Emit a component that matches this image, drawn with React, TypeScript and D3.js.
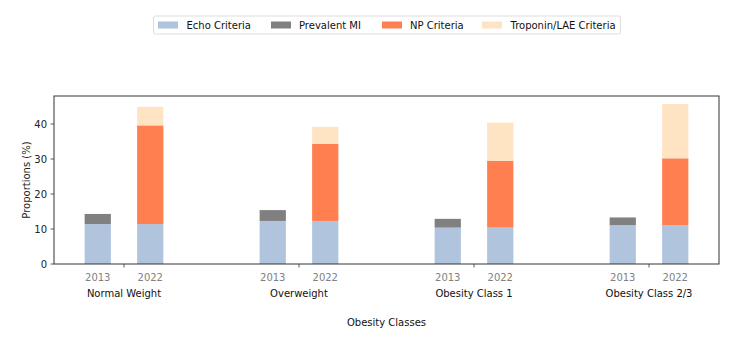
import React from "react";
import * as d3 from "d3";

const categories = ["Normal Weight", "Overweight", "Obesity Class 1", "Obesity Class 2/3"];
const years = ["2013", "2022"];
const echo2013 = [11.4, 12.3, 10.4, 11.1];
const mi2013 = [2.9, 3.1, 2.5, 2.2];
const echo2022 = [11.4, 12.3, 10.4, 11.1];
const np2022 = [28.2, 22.0, 19.1, 19.1];
const trop2022 = [5.3, 4.9, 10.9, 15.5];
const yTicks = [0, 10, 20, 30, 40];
const seriesNames = ["Echo Criteria", "Prevalent MI", "NP Criteria", "Troponin/LAE Criteria"];
const colors = ["#B0C4DE", "#808080", "#FF7F50", "#FFE4C4"];

const W = 744, H = 340;
const font = "DejaVu Sans, sans-serif";

export default function App() {
  const x = d3.scaleLinear().domain([-0.4, 3.4]).range([54, 719]);
  const y = d3.scaleLinear().domain([0, 48]).range([264, 96]);
  const bw = 0.15;
  const off = 0.15;
  const bars: { x0: number; v0: number; v1: number; c: string; key: string }[] = [];
  categories.forEach((_, i) => {
    const a = i - off;
    bars.push({ key: `e13-${i}`, x0: a, v0: 0, v1: echo2013[i], c: colors[0] });
    bars.push({ key: `m13-${i}`, x0: a, v0: echo2013[i], v1: echo2013[i] + mi2013[i], c: colors[1] });
    const b = i + off;
    const s1 = echo2022[i];
    const s2 = s1 + np2022[i];
    const s3 = s2 + trop2022[i];
    bars.push({ key: `e22-${i}`, x0: b, v0: 0, v1: s1, c: colors[0] });
    bars.push({ key: `n22-${i}`, x0: b, v0: s1, v1: s2, c: colors[2] });
    bars.push({ key: `t22-${i}`, x0: b, v0: s2, v1: s3, c: colors[3] });
  });

  const legendItems = [
    { px: 158, tx: 186.5 },
    { px: 271, tx: 299 },
    { px: 382, tx: 410 },
    { px: 482, tx: 510.5 },
  ];

  return (
    <svg width={W} height={H} style={{ position: "absolute", left: 0, top: 0, background: "#fff" }} fontFamily={font}>
      <rect x={0} y={0} width={W} height={H} fill="#fff" />
      {bars.map((b) => (
        <rect
          key={b.key}
          x={x(b.x0 - bw / 2)}
          width={x(bw) - x(0)}
          y={y(b.v1)}
          height={y(b.v0) - y(b.v1)}
          fill={b.c}
        />
      ))}
      {/* axes frame */}
      <rect x={54} y={96} width={719 - 54} height={264 - 96} fill="none" stroke="#333" strokeWidth={1} />
      {/* y ticks */}
      {yTicks.map((t) => (
        <g key={t}>
          <line x1={54} x2={50.5} y1={y(t)} y2={y(t)} stroke="#333" strokeWidth={0.8} />
          <text x={47} y={y(t)} dy="0.35em" textAnchor="end" fontSize={10} fill="#222">
            {t}
          </text>
        </g>
      ))}
      <text transform={`translate(30,180) rotate(-90)`} textAnchor="middle" fontSize={10} fill="#222">
        Proportions (%)
      </text>
      {/* x ticks */}
      {categories.map((c, i) => (
        <g key={c}>
          <line x1={x(i)} x2={x(i)} y1={264} y2={267.5} stroke="#333" strokeWidth={0.8} />
          {years.map((yr, j) => (
            <text key={yr} x={x(i + (j === 0 ? -off : off))} y={281} textAnchor="middle" fontSize={10} fill="#808080">
              {yr}
            </text>
          ))}
          <text x={x(i)} y={297} textAnchor="middle" fontSize={10} fill="#111">
            {c}
          </text>
        </g>
      ))}
      <text x={(54 + 719) / 2} y={326} textAnchor="middle" fontSize={10} fill="#111">
        Obesity Classes
      </text>
      {/* legend */}
      <rect x={153.5} y={16} width={467} height={18} rx={2} fill="#fff" stroke="#ddd" strokeWidth={1} />
      {seriesNames.map((s, i) => (
        <g key={s}>
          <rect x={legendItems[i].px} y={21.5} width={20} height={7} fill={colors[i]} />
          <text x={legendItems[i].tx} y={25} dy="0.35em" fontSize={10} fill="#111">
            {s}
          </text>
        </g>
      ))}
    </svg>
  );
}
